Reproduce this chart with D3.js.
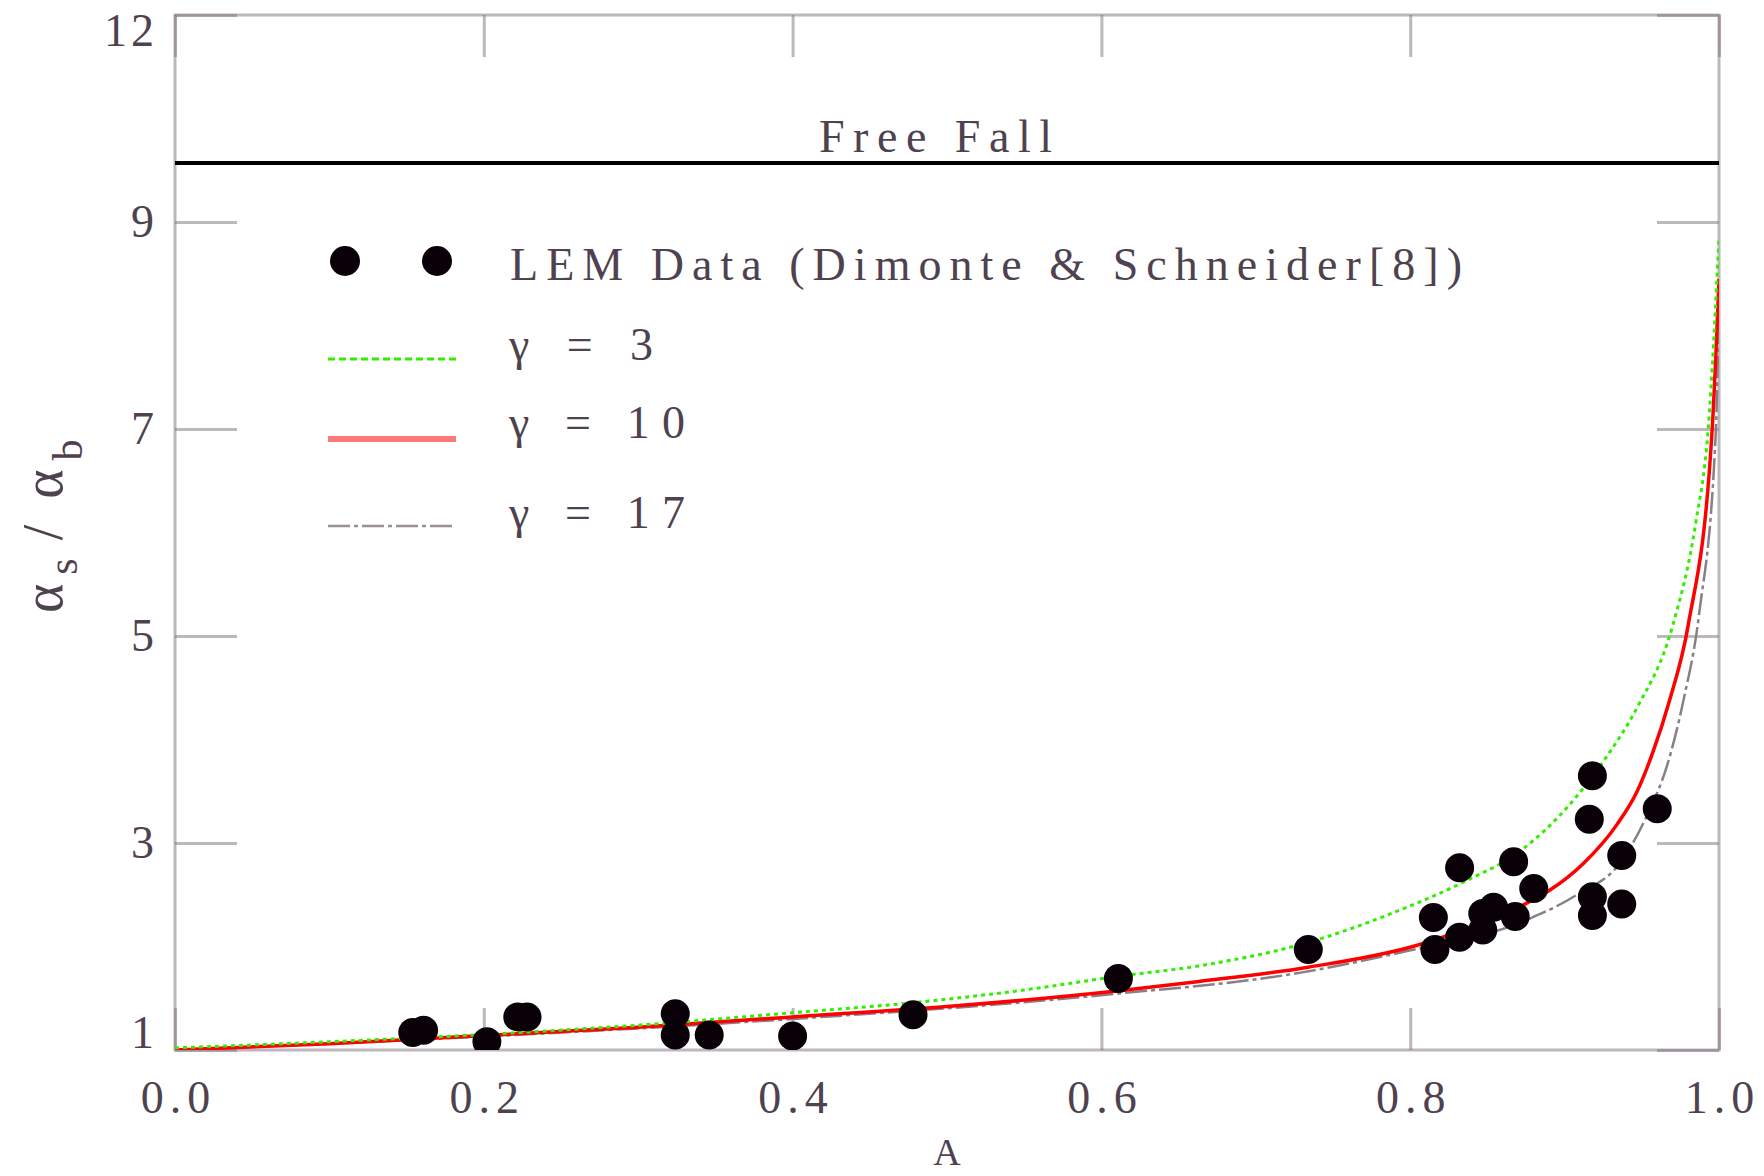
<!DOCTYPE html>
<html><head><meta charset="utf-8">
<script src="https://cdn.jsdelivr.net/npm/d3@7"></script>
<style>body{margin:0;background:#fff;} svg{display:block}</style>
</head><body>
<svg id="chart" width="1764" height="1176"></svg>
<script>
// ---------- data ----------
const lemA     = [0.154,0.161,0.202,0.222,0.228,0.324,0.324,0.346,0.400,0.478,0.611,0.734,0.815,0.816,0.832,0.832,0.847,0.847,0.854,0.867,0.868,0.880,0.918,0.916,0.918,0.918,0.937,0.937,0.960];
const lemRatio = [1.17, 1.19, 1.08, 1.32, 1.32, 1.35, 1.145,1.145,1.135,1.34, 1.69, 1.97, 2.28, 1.97, 2.76, 2.09, 2.16, 2.32, 2.38, 2.82, 2.29, 2.56, 3.65, 3.23, 2.48, 2.30, 2.88, 2.41, 3.33];

const g3A = [0,0.1,0.2,0.3,0.4,0.48,0.55,0.61,0.662,0.734,0.793,0.837,0.871,0.902,0.927,0.947,0.97,0.985,0.993,1.0];
const g3V = [1.02,1.08,1.15,1.24,1.36,1.46,1.58,1.71,1.81,2.04,2.35,2.64,2.92,3.35,3.83,4.31,5.1,6.1,7.0,8.85];

const g10A = [0,0.1,0.2,0.3,0.4,0.5,0.61,0.662,0.734,0.804,0.821,0.873,0.891,0.912,0.934,0.947,0.957,0.968,0.98,0.9956,1.0];
const g10V = [1.0,1.06,1.14,1.22,1.32,1.42,1.57,1.66,1.80,2.01,2.09,2.40,2.55,2.80,3.18,3.50,3.87,4.38,5.1,7.0,8.45];

const g17A = [0,0.2,0.4,0.6,0.73,0.793,0.876,0.908,0.936,0.955,0.966,0.977,0.987,0.998,1.0];
const g17V = [1.0,1.13,1.30,1.53,1.75,1.94,2.26,2.50,2.81,3.32,3.73,4.38,5.2,7.0,8.3];

const freeFall = 9.57;

const xTicks = [0,0.2,0.4,0.6,0.8,1.0];
const xTickLabels = ["0.0","0.2","0.4","0.6","0.8","1.0"];
const yTicks = [1,3,5,7,9,11];
const yTickLabels = ["1","3","5","7","9","12"];

const seriesNames = ["LEM Data (Dimonte & Schneider[8])","γ = 3","γ = 10","γ = 17"];

// ---------- layout ----------
const L = 175, R = 1719, T = 15, B = 1050;
const svg = d3.select("#chart");
const x = d3.scaleLinear().domain([0,1]).range([L,R]);
const y = d3.scaleLinear().domain([1,11]).range([B,T]);

const axisCol = "#7d6f7d", txtCol = "#4f424f";
const font = "'Liberation Serif','DejaVu Serif',serif";

svg.append("defs").append("clipPath").attr("id","plotclip")
  .append("rect").attr("x",L).attr("y",T).attr("width",R-L).attr("height",B-T);

// frame
svg.append("rect").attr("x",L).attr("y",T).attr("width",R-L).attr("height",B-T)
  .attr("fill","none").attr("stroke",axisCol).attr("stroke-opacity",0.5).attr("stroke-width",3);

function styleAxis(g){
  g.select(".domain").remove();
  g.selectAll(".tick line").attr("stroke",axisCol).attr("stroke-opacity",0.5).attr("stroke-width",3);
  g.selectAll(".tick text").attr("fill",txtCol).attr("font-family",font).attr("font-size",46).attr("letter-spacing",6);
}

// bottom
const gx = svg.append("g").attr("transform",`translate(0,${B})`)
  .call(d3.axisBottom(x).tickValues(xTicks).tickSize(-42).tickPadding(30)
        .tickFormat((d,i)=>xTickLabels[i]));
styleAxis(gx);
gx.selectAll(".tick text").attr("dx",3);
// top
const gt = svg.append("g").attr("transform",`translate(0,${T})`)
  .call(d3.axisTop(x).tickValues(xTicks).tickSize(-42).tickFormat(""));
styleAxis(gt);
// left
const gy = svg.append("g").attr("transform",`translate(${L},0)`)
  .call(d3.axisLeft(y).tickValues(yTicks).tickSize(-62).tickPadding(17)
        .tickFormat((d,i)=>yTickLabels[i]));
styleAxis(gy);
gy.selectAll(".tick text").attr("letter-spacing",4)
  .attr("dy",(d)=> d===11 ? "0.66em" : d===1 ? "-0.05em" : "0.32em");
// right
const gr = svg.append("g").attr("transform",`translate(${R},0)`)
  .call(d3.axisRight(y).tickValues(yTicks).tickSize(-62).tickFormat(""));
styleAxis(gr);

// axis titles
svg.append("text").attr("x",(L+R)/2).attr("y",1165).attr("text-anchor","middle")
  .attr("font-family",font).attr("font-size",38).attr("fill",txtCol).text("A");

const yt = svg.append("text").attr("transform","translate(62,613) rotate(-90)")
  .attr("font-family",font).attr("font-size",56).attr("fill",txtCol);
yt.append("tspan").text("α");
yt.append("tspan").attr("font-size",42).attr("dy",15).attr("dx",9).text("s");
yt.append("tspan").attr("dy",-15).attr("dx",18).text("/");
yt.append("tspan").attr("dx",26).text("α");
yt.append("tspan").attr("font-size",42).attr("dy",20).attr("dx",9).text("b");

// plot content
const plot = svg.append("g").attr("clip-path","url(#plotclip)");

// free fall
plot.append("line").attr("x1",x(0)).attr("x2",x(1)).attr("y1",y(freeFall)).attr("y2",y(freeFall))
  .attr("stroke","#000").attr("stroke-width",4);
svg.append("text").attr("x",819).attr("y",152).attr("textLength",233).attr("lengthAdjust","spacing")
  .attr("font-family",font).attr("font-size",46).attr("fill",txtCol).text("Free Fall");

const line = d3.line().x(d=>x(d[0])).y(d=>y(d[1])).curve(d3.curveMonotoneX);
const styles = [
  {A:g17A,V:g17V,stroke:"#8a7e88",w:2.5,dash:"22 4 4 4"},
  {A:g10A,V:g10V,stroke:"#ff0000",w:3.5,dash:null},
  {A:g3A, V:g3V, stroke:"#33ee00",w:3,  dash:"4 4"}
];
styles.forEach(s=>{
  plot.append("path").datum(s.A.map((a,i)=>[a,s.V[i]]))
    .attr("d",line).attr("fill","none").attr("stroke",s.stroke)
    .attr("stroke-width",s.w).attr("stroke-dasharray",s.dash);
});

// data points
plot.selectAll("circle.lem").data(lemA.map((a,i)=>[a,lemRatio[i]])).enter()
  .append("circle").attr("class","lem").attr("cx",d=>x(d[0])).attr("cy",d=>y(d[1]))
  .attr("r",14.5).attr("fill","#0a0008");

// legend
const lg = svg.append("g");
[345,437].forEach(cx=>lg.append("circle").attr("cx",cx).attr("cy",261).attr("r",15).attr("fill","#0a0008"));
lg.append("text").attr("x",510).attr("y",280).attr("textLength",952).attr("lengthAdjust","spacing")
  .attr("font-family",font).attr("font-size",46).attr("fill",txtCol).text(seriesNames[0]);
const legLines = [
  {y:359, stroke:"#33ee00", w:3, dash:"7 4", label:seriesNames[1], ty:360, len:144},
  {y:439, stroke:"#ff7878", w:6, dash:null, label:seriesNames[2], ty:438, len:176},
  {y:526, stroke:"#9a8e98", w:2.5, dash:"22 4 4 4", label:seriesNames[3], ty:528, len:176}
];
legLines.forEach(l=>{
  lg.append("line").attr("x1",328).attr("x2",456).attr("y1",l.y).attr("y2",l.y)
    .attr("stroke",l.stroke).attr("stroke-width",l.w).attr("stroke-dasharray",l.dash);
  lg.append("text").attr("x",509).attr("y",l.ty).attr("textLength",l.len).attr("lengthAdjust","spacing")
    .attr("font-family",font).attr("font-size",46).attr("fill",txtCol).text(l.label);
});
</script>
</body></html>
